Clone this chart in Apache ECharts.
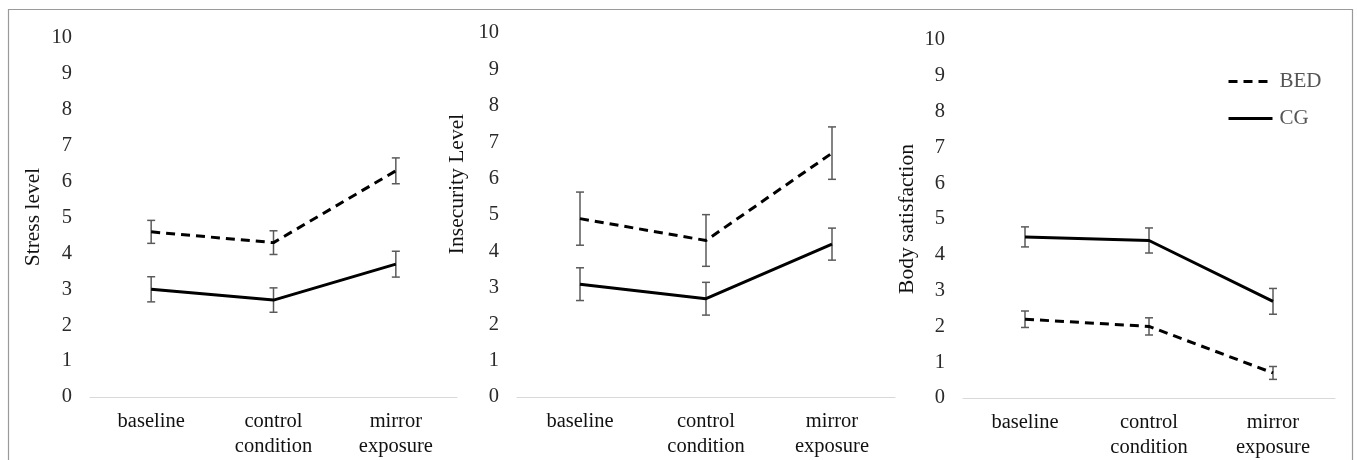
<!DOCTYPE html>
<html>
<head>
<meta charset="utf-8">
<script src="https://cdn.jsdelivr.net/npm/echarts@6/dist/echarts.min.js"></script>
<style>
  html, body { margin: 0; padding: 0; background: #ffffff; }
  #chart { width: 1357px; height: 460px; }
</style>
</head>
<body>
<div id="chart"></div>
<script>
// ---- data ----
const categories = ['baseline', 'control\ncondition', 'mirror\nexposure'];
const yTickLabels = ['0','1','2','3','4','5','6','7','8','9','10'];
const panelTitles = ['Stress level', 'Insecurity Level', 'Body satisfaction'];
const seriesNames = ['BED', 'CG'];

const stressBED = [4.6, 4.3, 6.3];
const stressBEDErr = [0.32, 0.33, 0.36];
const stressCG = [3.0, 2.7, 3.7];
const stressCGErr = [0.35, 0.34, 0.36];

const insecBED = [4.9, 4.3, 6.7];
const insecBEDErr = [0.73, 0.71, 0.72];
const insecCG = [3.1, 2.7, 4.2];
const insecCGErr = [0.45, 0.45, 0.44];

const bodyBED = [2.2, 2.0, 0.7];
const bodyBEDErr = [0.23, 0.24, 0.18];
const bodyCG = [4.5, 4.4, 2.7];
const bodyCGErr = [0.28, 0.35, 0.36];

// ---- build ----
const FONT = '"Liberation Serif", "Times New Roman", serif';
const DASH = [9, 6];
const panels = [
  { bed: stressBED, bedErr: stressBEDErr, cg: stressCG, cgErr: stressCGErr,
    grid: { left: 90, top: 38, width: 367, height: 359 }, title: { x: 33, y: 217 } },
  { bed: insecBED, bedErr: insecBEDErr, cg: insecCG, cgErr: insecCGErr,
    grid: { left: 517, top: 33, width: 378, height: 364 }, title: { x: 457, y: 184 } },
  { bed: bodyBED, bedErr: bodyBEDErr, cg: bodyCG, cgErr: bodyCGErr,
    grid: { left: 963, top: 40, width: 372, height: 358 }, title: { x: 907, y: 219 } }
];

function errData(means, errs) {
  return means.map((m, i) => [i, m, errs[i]]);
}

function errRender(params, api) {
  const x = api.value(0), m = api.value(1), e = api.value(2);
  const hi = api.coord([x, m + e]);
  const lo = api.coord([x, m - e]);
  const cap = 4;
  const style = { stroke: '#5a5a5a', lineWidth: 1.5 };
  return {
    type: 'group',
    children: [
      { type: 'line', shape: { x1: hi[0], y1: hi[1], x2: lo[0], y2: lo[1] }, style },
      { type: 'line', shape: { x1: hi[0] - cap, y1: hi[1], x2: hi[0] + cap, y2: hi[1] }, style },
      { type: 'line', shape: { x1: lo[0] - cap, y1: lo[1], x2: lo[0] + cap, y2: lo[1] }, style }
    ]
  };
}

const grids = [], xAxes = [], yAxes = [], series = [], graphics = [];

graphics.push({
  type: 'rect', silent: true,
  shape: { x: 8.5, y: 9.5, width: 1344, height: 470 },
  style: { fill: 'none', stroke: '#9a9a9a', lineWidth: 1.2 }
});

panels.forEach((p, i) => {
  grids.push(p.grid);
  xAxes.push({
    type: 'category', gridIndex: i, data: categories, boundaryGap: true,
    axisLine: { show: true, lineStyle: { color: '#d9d9d9', width: 1.2 } },
    axisTick: { show: false },
    axisLabel: { interval: 0, color: '#111', fontFamily: FONT, fontSize: 20.5, lineHeight: 25, margin: 12 }
  });
  yAxes.push({
    type: 'value', gridIndex: i, min: 0, max: 10, interval: 1,
    axisLine: { show: false }, axisTick: { show: false }, splitLine: { show: false },
    axisLabel: { color: '#2a2a2a', fontFamily: FONT, fontSize: 20.5, margin: 18,
      formatter: v => yTickLabels[v] }
  });
  series.push({
    type: 'custom', xAxisIndex: i, yAxisIndex: i, renderItem: errRender,
    data: errData(p.bed, p.bedErr), encode: { x: 0, y: 1 }, z: 1, silent: true
  });
  series.push({
    type: 'custom', xAxisIndex: i, yAxisIndex: i, renderItem: errRender,
    data: errData(p.cg, p.cgErr), encode: { x: 0, y: 1 }, z: 1, silent: true
  });
  series.push({
    name: seriesNames[0], type: 'line', xAxisIndex: i, yAxisIndex: i, data: p.bed,
    symbol: 'none', z: 3, lineStyle: { color: '#000', width: 3, type: DASH }, itemStyle: { color: '#000' }
  });
  series.push({
    name: seriesNames[1], type: 'line', xAxisIndex: i, yAxisIndex: i, data: p.cg,
    symbol: 'none', z: 3, lineStyle: { color: '#000', width: 3 }, itemStyle: { color: '#000' }
  });
  graphics.push({
    type: 'text', x: p.title.x, y: p.title.y, rotation: Math.PI / 2,
    style: { text: panelTitles[i], fill: '#111', font: '21.5px ' + FONT,
      textAlign: 'center', textVerticalAlign: 'middle' }
  });
});

const chart = echarts.init(document.getElementById('chart'), null, { renderer: 'canvas' });
chart.setOption({
  animation: false,
  backgroundColor: '#ffffff',
  grid: grids,
  xAxis: xAxes,
  yAxis: yAxes,
  legend: {
    orient: 'vertical', left: 1227, top: 71, padding: 0,
    itemWidth: 44, itemHeight: 14, itemGap: 16,
    itemStyle: { color: 'rgba(0,0,0,0)', borderWidth: 0, opacity: 0 },
    data: [
      { name: seriesNames[0], lineStyle: { color: '#000', width: 3, type: DASH, opacity: 1 } },
      { name: seriesNames[1], lineStyle: { color: '#000', width: 3, type: 'solid', opacity: 1 } }
    ],
    textStyle: { color: '#555', fontFamily: FONT, fontSize: 21, padding: [0, 0, 0, 2] }
  },
  graphic: graphics,
  series: series
});
</script>
</body>
</html>
